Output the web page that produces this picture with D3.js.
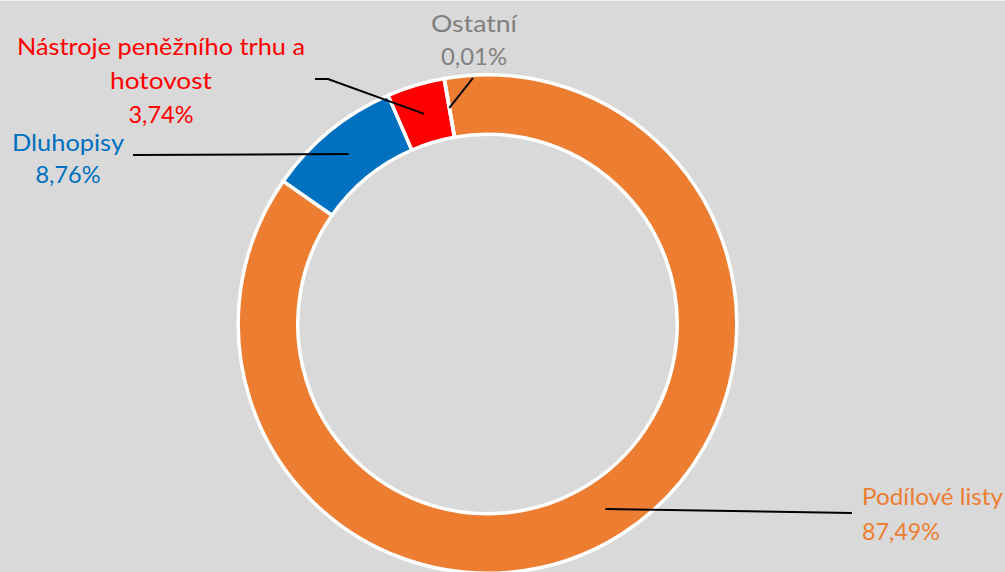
<!DOCTYPE html>
<html>
<head>
<meta charset="utf-8">
<script src="https://cdn.jsdelivr.net/npm/d3@7"></script>
<style>
  html, body { margin: 0; padding: 0; background: #d9d9d9; }
  svg { display: block; }
</style>
</head>
<body>
<svg id="chart" width="1005" height="572"></svg>
<script>
// ---- data ----
const categories = ["Podílové listy", "Dluhopisy", "Nástroje peněžního trhu a hotovost", "Ostatní"];
const values = [87.49, 8.76, 3.74, 0.01];
const valueLabels = ["87,49%", "8,76%", "3,74%", "0,01%"];
const nameLines = [["Podílové listy"], ["Dluhopisy"], ["Nástroje peněžního trhu a", "hotovost"], ["Ostatní"]];

// ---- styles / layout ----
const sliceColors = ["#ed7d31", "#0070c0", "#ff0000", "#a5a5a5"];
const textColors = ["#ed7d31", "#0070c0", "#ff0000", "#808080"];
const W = 1005, H = 572;
const cx = 487.5, cy = 324;
const rOuter = 249.25, rInner = 189.75;
const startDeg = -10;

// label layout: anchor x, first baseline y, line height, alignment, widths of each line, leader outer points
const labelLayout = [
  { x: 862, y: 505, lh: 35, anchor: "start", widths: [141, 78], leader: [[852, 513]] },
  { x: 68, y: 151, lh: 32, anchor: "middle", widths: [112, 65], leader: [[133, 155]] },
  { x: 161, y: 55, lh: 34, anchor: "middle", widths: [288, 102, 65], leader: [[315, 79], [328, 79]] },
  { x: 474, y: 32, lh: 33, anchor: "middle", widths: [86, 66], leader: [[473, 78]] }
];

const svg = d3.select("#chart");
svg.append("rect").attr("width", W).attr("height", H).attr("fill", "#d9d9d9");
svg.append("line").attr("x1", 0).attr("x2", W).attr("y1", 0.5).attr("y2", 0.5)
  .attr("stroke", "#f2f2f2").attr("stroke-width", 1);

const data = categories.map((c, i) => ({ name: c, value: values[i], i }));
const start = startDeg * Math.PI / 180;
const pie = d3.pie().value(d => d.value).sort(null).startAngle(start).endAngle(start + 2 * Math.PI);
const arcs = pie(data);
const arc = d3.arc().innerRadius(rInner).outerRadius(rOuter);

const g = svg.append("g").attr("transform", `translate(${cx},${cy})`);
g.selectAll("path").data(arcs).join("path")
  .attr("d", arc)
  .attr("fill", d => sliceColors[d.data.i])
  .attr("stroke", "#ffffff")
  .attr("stroke-width", 3.5)
  .attr("stroke-linejoin", "miter");

// leader lines
const line = d3.line();
arcs.forEach(a => {
  const i = a.data.i;
  const c = arc.centroid(a);
  const pts = labelLayout[i].leader.map(p => [p[0], p[1]]);
  pts.push([cx + c[0], cy + c[1]]);
  svg.append("path").attr("d", line(pts))
    .attr("fill", "none").attr("stroke", "#000000").attr("stroke-width", 2);
});

// labels
arcs.forEach(a => {
  const i = a.data.i;
  const L = labelLayout[i];
  const lines = nameLines[i].concat([valueLabels[i]]);
  lines.forEach((t, k) => {
    svg.append("text")
      .attr("x", L.x).attr("y", L.y + k * L.lh)
      .attr("text-anchor", L.anchor)
      .attr("font-family", "Lato, 'Open Sans', sans-serif")
      .attr("font-size", 24)
      .attr("fill", textColors[i])
      .attr("textLength", L.widths[k])
      .attr("lengthAdjust", "spacingAndGlyphs")
      .text(t);
  });
});
</script>
</body>
</html>
